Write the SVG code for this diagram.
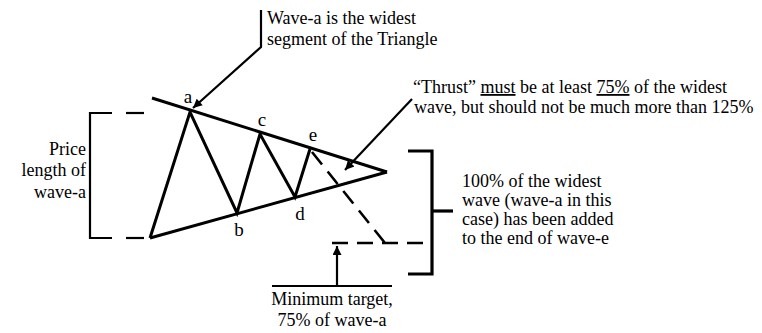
<svg xmlns="http://www.w3.org/2000/svg" width="762" height="333" viewBox="0 0 762 333">
<style>
text{font-family:"Liberation Serif","Times New Roman",serif;font-size:18px;fill:#000}
.lbl{font-size:19px}
.ln{stroke:#000;stroke-width:3;fill:none;stroke-linejoin:miter}
.thin{stroke:#000;stroke-width:2.2;fill:none}
.br{stroke:#000;stroke-width:3.2;fill:none}
.dash{stroke:#000;stroke-width:2.6;fill:none;stroke-dasharray:16 9}
</style>
<defs>
<marker id="ah2" viewBox="0 0 10 10" refX="10" refY="5" markerWidth="16" markerHeight="9" orient="auto" markerUnits="userSpaceOnUse"><path d="M0,0 L10,5 L0,10 z" fill="#000"/></marker>
</defs>
<g id="triangle">
<line class="ln" x1="152" y1="98" x2="387" y2="172"/>
<line class="ln" x1="150" y1="238" x2="387" y2="172"/>
<polyline class="ln" points="150,238 190,112 237,213 260,134 295,197 310,149"/>
<text class="lbl" x="188" y="103" text-anchor="middle">a</text>
<text class="lbl" x="239" y="236" text-anchor="middle">b</text>
<text class="lbl" x="262" y="126" text-anchor="middle">c</text>
<text class="lbl" x="300" y="220" text-anchor="middle">d</text>
<text class="lbl" x="313" y="141" text-anchor="middle">e</text>
</g>
<g id="price-length">
<polyline class="thin" points="112,113 90,113 90,238 112,238"/>
<line class="thin" x1="126" y1="113" x2="144" y2="113"/>
<line class="thin" x1="126" y1="238" x2="144" y2="238"/>
<text x="86" y="155" text-anchor="end">Price</text>
<text x="86" y="176" text-anchor="end">length of</text>
<text x="86" y="198" text-anchor="end">wave-a</text>
</g>
<g id="projection">
<line class="dash" x1="312" y1="152" x2="385" y2="243"/>
<line class="dash" x1="332" y1="243" x2="430" y2="243" stroke-dasharray="14 8"/>
<polyline class="br" points="408,151 432,151 432,274 408,274"/>
<line class="br" x1="432" y1="211" x2="453" y2="211"/>
<text x="462" y="187">100% of the widest</text>
<text x="462" y="206">wave (wave-a in this</text>
<text x="462" y="225">case) has been added</text>
<text x="462" y="244">to the end of wave-e</text>
</g>
<g id="wave-a-note">
<text x="267" y="24">Wave-a is the widest</text>
<text x="267" y="45">segment of the Triangle</text>
</g>
<g id="thrust-note">
<text x="413" y="93">“Thrust” <tspan text-decoration="underline">must</tspan> be at least <tspan text-decoration="underline">75%</tspan> of the widest</text>
<text x="414" y="113">wave, but should not be much more than 125%</text>
</g>
<g id="min-target">
<line class="thin" x1="272" y1="286" x2="392" y2="286"/>
<text x="332" y="305" text-anchor="middle">Minimum target,</text>
<text x="332" y="326" text-anchor="middle">75% of wave-a</text>
</g>
<g id="connectors">
<polyline class="thin" points="261,10 261,47 193,108" marker-end="url(#ah2)"/>
<line class="thin" x1="412" y1="99" x2="345" y2="170" marker-end="url(#ah2)"/>
<line class="thin" x1="337" y1="286" x2="337" y2="246" marker-end="url(#ah2)"/>
</g>
</svg>
